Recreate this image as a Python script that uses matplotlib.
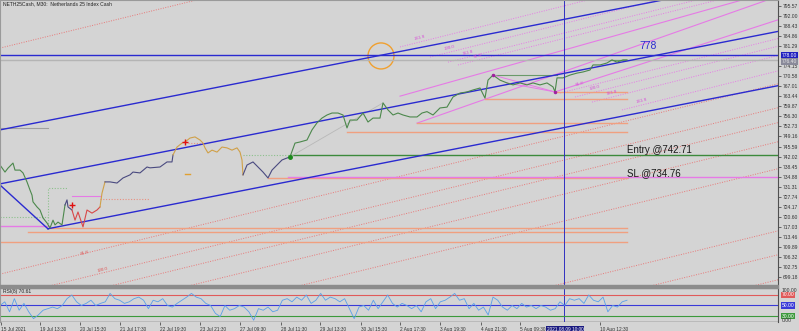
import numpy as np
import matplotlib.pyplot as plt
from matplotlib.patches import Ellipse, Rectangle

plt.rcParams['font.family'] = ['Liberation Sans', 'DejaVu Sans']

# ---- price path (bar index, price) ----
bar_x = [0, 5, 8, 13, 15, 20, 23, 27, 30, 32, 33, 37, 40, 43, 47, 50, 53, 55, 58, 62,
         65, 67, 68, 72, 75, 78, 83, 87, 92, 97, 100, 102, 105, 110, 117, 123, 130, 133,
         140, 147, 150, 160, 167, 172, 173, 177, 182, 185, 190, 195, 200, 203, 205, 208,
         212, 217, 222, 227, 232, 237, 240, 242, 243, 247, 253, 258, 263, 268, 272, 277,
         282, 287, 290, 295, 300, 307, 312, 317, 322, 327, 332, 338, 343, 347, 350, 357,
         363, 368, 373, 380, 383, 388, 393, 398, 403, 410, 417, 422, 427, 433, 440, 447,
         453, 460, 467, 473, 480, 485, 488, 493, 500, 507, 513, 520, 527, 533, 540, 547,
         553, 555, 557, 563, 570, 577, 583, 590, 593, 600, 607, 612, 617, 623, 627]
price = [739.0, 736.5, 737.9, 739.7, 737.2, 737.2, 736.2, 733.0, 730.1, 728.3, 725.9,
         724.1, 723.0, 720.2, 718.4, 716.6, 719.4, 717.7, 718.7, 717.7, 724.8, 726.6,
         724.1, 723.0, 719.4, 722.3, 717.0, 723.0, 721.9, 723.0, 724.1, 729.0, 733.0,
         733.0, 732.6, 734.4, 735.5, 736.5, 736.2, 738.3, 738.0, 738.3, 740.1, 740.1,
         742.6, 745.4, 746.8, 747.2, 748.6, 749.0, 747.9, 746.8, 745.1, 743.3, 744.3,
         743.6, 745.4, 745.1, 744.3, 745.1, 743.6, 740.8, 735.5, 739.0, 740.1, 738.3,
         736.5, 734.4, 737.2, 739.0, 740.8, 741.5, 741.9, 746.8, 747.2, 747.9, 751.5,
         754.0, 755.7, 756.8, 757.5, 757.5, 756.8, 752.2, 755.0, 755.0, 757.5, 754.3,
         755.7, 755.7, 761.1, 758.6, 756.8, 757.5, 756.8, 756.1, 756.1, 757.5, 758.0,
         756.8, 759.3, 759.6, 763.2, 764.6, 765.0, 765.7, 766.4, 762.8, 769.2, 771.0,
         769.2, 768.2, 767.5, 768.2, 767.5, 768.2, 767.5, 768.2, 766.8, 765.0, 770.0,
         770.0, 771.0, 771.7, 772.1, 772.8, 774.6, 774.6, 775.3, 776.4, 775.6, 776.4,
         776.4]
seg_edges = [0, 65, 72, 100, 105, 173, 243, 290, 627]
seg_colors = ['#4c884c', '#4a4a80', '#d84848', '#d0a048', '#4a4a80', '#d0a048',
              '#4a4a80', '#4c884c']

# ---- RSI(8) ----
rsi_vals = [50, 57, 38, 63, 41, 54, 38, 25, 32, 41, 44, 47, 44, 50, 63, 70, 57, 50, 54, 60,
            50, 54, 57, 73, 63, 60, 54, 57, 63, 66, 60, 44, 60, 57, 63, 50, 47, 54, 60, 66,
            73, 66, 63, 54, 50, 35, 29, 50, 41, 44, 50, 47, 38, 22, 44, 41, 47, 38, 41, 60,
            63, 57, 66, 60, 70, 54, 60, 73, 60, 66, 63, 57, 63, 44, 25, 47, 50, 41, 60, 44,
            57, 70, 54, 47, 54, 50,
            44, 50, 38, 57, 63, 44, 57, 60, 66, 73, 60, 63, 44, 54, 41, 47, 32, 66, 60, 47,
            41, 50, 44, 54, 47, 50, 44, 50, 47, 41, 44, 57, 50, 63, 60, 63, 54, 70, 60, 57,
            66, 38, 50, 47, 57, 60]
rsi_levels = [70, 50, 30]
rsi_level_colors = ['#e05a5a', '#3a3ad8', '#3c9a3c']

# ---- axis ticks ----
price_ticks = [795.57, 792.00, 788.43, 784.86, 781.29, 774.15, 770.58, 767.01, 763.44,
               759.87, 756.30, 752.73, 749.16, 745.59, 742.02, 738.45, 734.88, 731.31,
               727.74, 724.17, 720.60, 717.03, 713.46, 709.89, 706.32, 702.75, 699.18]
time_pos = [1, 40, 80, 120, 160, 200, 240, 281, 320, 361, 400, 440, 481, 520, 600]
time_labels = ['15 Jul 2021', '19 Jul 13:30', '20 Jul 15:30', '21 Jul 17:30',
               '22 Jul 19:30', '23 Jul 21:30', '27 Jul 09:30', '28 Jul 11:30',
               '29 Jul 13:30', '30 Jul 15:30', '2 Aug 17:30', '3 Aug 19:30',
               '4 Aug 21:30', '5 Aug 09:30', '10 Aug 12:30']

# ---- drawn objects ----
level_778 = 778.0
bid_level = 776.4
entry = 742.71
stop = 734.76
chan_slope = 0.0697
chan_start = [751.5, 732.3, 713.0]
v_line = ([0, 48], [731.9, 716.3])
fib_slope = 0.087
red_fib_start = [780.6, 700.2, 691.7, 686.4, 679.6, 670.0, 647.9, 639.4, 630.5]
pink_fib = [(400, 781.0, '261.8'), (430, 777.4, '200.0'), (448, 775.6, '161.8'),
            (458, 774.6, '61.8'), (560, 764.6, '61.8'), (575, 763.2, '100.0'),
            (592, 761.4, '161.8'), (622, 758.6, '261.8')]
pink_solid = [((417, 753.9), 0.125), ((555, 765.0), 0.115), ((400, 763.5), 0.100)]
salmon_levels = [(268, 627, 734.4), (347, 627, 750.7), (417, 627, 753.9),
                 (485, 627, 762.5), (555, 627, 765.0), (48, 627, 716.5),
                 (28, 627, 715.2), (0, 627, 711.6)]

W, H = 799, 331
bg = '#d4d4d4'
fs = 3.6
fig = plt.figure(figsize=(W / 100, H / 100), dpi=100)
fig.patch.set_facecolor(bg)
ax = fig.add_axes([0, 1 - 285 / H, 778 / W, 285 / H])
rs = fig.add_axes([0, 1 - 322 / H, 778 / W, 34 / H])
fig.add_artist(Rectangle((0, 1 - 288 / H), 778 / W, 3 / H, transform=fig.transFigure,
                         color='#8c8c8c'))

for a in (ax, rs):
    a.set_facecolor(bg)
    a.set_xlim(0, 778)
    a.spines['right'].set_color('#505050')
    a.spines['top'].set_color('#9a9a9a')
    a.spines['left'].set_color('#9a9a9a')
    a.spines['bottom'].set_visible(False)
ax.set_ylim(696.33, 797.70)
ax.set_xticks([])
ax.yaxis.tick_right()
ax.set_yticks(price_ticks)
ax.set_yticklabels(['%.2f' % t for t in price_ticks])
ax.tick_params(axis='y', labelsize=fs, colors='#505050', labelcolor='#333333',
               length=2.5, width=0.6, pad=1.2)

xs = np.linspace(0, 778, 2)

# red dotted fibo lines
for p0 in red_fib_start:
    ax.plot(xs, p0 + fib_slope * xs, color='#e87878', lw=0.7, ls=(0, (1, 1.5)))
ax.text(85, 707.7, '61.8', color='#e05050', fontsize=3.2, rotation=14, ha='center', va='center')
ax.text(103, 701.7, '100.0', color='#e05050', fontsize=3.2, rotation=14, ha='center', va='center')

# pink fibo lines
for x0, p0, lab in pink_fib:
    px = np.array([x0, 778])
    ax.plot(px, p0 + 0.089 * (px - x0), color='#e67ae6', lw=0.7, ls=(0, (1, 1.5)))
    ax.text(x0 + 20, p0 + 0.089 * 20 + 0.3, lab, color='#d84ad8', fontsize=3.2,
            rotation=14, ha='center', va='bottom')
for (x0, p0), sl in pink_solid:
    px = np.array([x0, 778])
    ax.plot(px, p0 + sl * (px - x0), color='#e67ae6', lw=0.8)

# horizontal levels
ax.axhline(bid_level, color='#b4b4b4', lw=1)
ax.axhline(level_778, color='#2a2ad0', lw=1)
for x0, x1, lv in salmon_levels:
    ax.plot([x0, x1], [lv, lv], color='#f0a080', lw=1)
ax.plot([0, 50], [717.3, 717.3], color='#e67ae6', lw=1)
ax.plot([288, 778], [stop, stop], color='#e67ae6', lw=1)
ax.plot([290, 778], [entry, entry], color='#3c8a3c', lw=1)
ax.plot([243, 290], [entry, entry], color='#8cc08c', lw=0.8, ls=(0, (1, 1.5)))
ax.plot([0, 48], [752.2, 752.2], color='#a0a0a0', lw=0.8)
ax.plot([0, 48], [720.6, 720.6], color='#8cc08c', lw=0.8, ls=(0, (1, 1.5)))
ax.plot([48, 48, 67], [716.3, 730.8, 730.8], color='#8cc08c', lw=0.8, ls=(0, (1, 1.5)))
ax.plot([72, 100], [728.0, 728.0], color='#e67ae6', lw=0.8)
ax.plot([100, 150], [726.9, 726.9], color='#e89080', lw=0.8, ls=(0, (1, 1.5)))
ax.plot([188, 205], [746.8, 746.8], color='#e89080', lw=0.8, ls=(0, (1, 1.5)))
ax.plot([185, 190], [735.8, 735.8], color='#e0a030', lw=1)
ax.plot([493, 557], [771.0, 771.0], color='#6a9a6a', lw=0.8)
ax.plot([610, 627], [776.4, 776.4], color='#6a9a6a', lw=0.8)
ax.plot([493, 555], [771.0, 765.0], color='#e67ae6', lw=0.7)
ax.plot([507, 555], [768.2, 765.0], color='#e67ae6', lw=0.7)
ax.plot([290, 383], [741.9, 761.1], color='#b8b8b8', lw=0.6)

# channel (blue)
for i, p0 in enumerate(chan_start):
    x0 = 48 if i == 2 else 0
    px = np.array([x0, 778])
    ax.plot(px, p0 + chan_slope * px, color='#2a2ad0', lw=1)
ax.plot(v_line[0], v_line[1], color='#2a2ad0', lw=1)

# price path
bx = np.array(bar_x)
pr = np.array(price)
for i, c in enumerate(seg_colors):
    m = (bx >= seg_edges[i]) & (bx <= seg_edges[i + 1])
    ax.plot(bx[m], pr[m], color=c, lw=0.8)
ax.plot([185, 72], [747.2, 724.8], ls='none', marker='+', color='#e01010', ms=4, mew=1)
ax.plot([290], [741.9], marker='o', color='#1c8a1c', ms=2.5)
ax.plot([493, 555], [771.0, 765.0], ls='none', marker='o', color='#a020a0', ms=1.5)

# crosshair vertical
ax.axvline(564, color='#3030c0', lw=0.7)
rs.axvline(564, color='#3030c0', lw=0.7)

ax.add_patch(Ellipse((381, 777.8), 26, 26 * 0.3557, fill=False, ec='#f0a030', lw=1))

ax.text(648, 781.3, '778', color='#2a2ad0', fontsize=7.5, ha='center', va='center')
ax.text(627, 744.5, 'Entry @742.71', color='#1a1a1a', fontsize=7, ha='left', va='center')
ax.text(627, 736.3, 'SL @734.76', color='#1a1a1a', fontsize=7, ha='left', va='center')
ax.text(3, 796.3, 'NETH25Cash, M30:  Netherlands 25 Index Cash', color='#222222',
        fontsize=3.6, ha='left', va='center')

ax.annotate('778.00', xy=(1.0, level_778), xycoords=('axes fraction', 'data'),
            xytext=(2.5, 0), textcoords='offset points', fontsize=fs, color='white',
            va='center', ha='left',
            bbox=dict(boxstyle='square,pad=0.15', fc='#2020c0', ec='none'))
ax.annotate('776.40', xy=(1.0, bid_level - 0.6), xycoords=('axes fraction', 'data'),
            xytext=(2.5, 0), textcoords='offset points', fontsize=fs, color='#e8e8e8',
            va='center', ha='left',
            bbox=dict(boxstyle='square,pad=0.15', fc='#8a8a9a', ec='none'))

# RSI panel
rs.set_ylim(18.6, 83.3)
rs.set_yticks([])
for lv, c in zip(rsi_levels, rsi_level_colors):
    rs.axhline(lv, color=c, lw=0.8)
    rs.annotate('%.2f' % lv, xy=(1.0, lv), xycoords=('axes fraction', 'data'),
                xytext=(2.5, 0), textcoords='offset points', fontsize=fs, color='white',
                va='center', ha='left',
                bbox=dict(boxstyle='square,pad=0.15', fc=c, ec='none'))
rs.annotate('100.00', xy=(1.0, 1.0), xycoords='axes fraction', xytext=(2.5, -2),
            textcoords='offset points', fontsize=fs, color='#333333', va='center')
rs.annotate('0.00', xy=(1.0, 0.0), xycoords='axes fraction', xytext=(2.5, 1),
            textcoords='offset points', fontsize=fs, color='#333333', va='center')
rx = np.linspace(0, 627, len(rsi_vals))
rs.plot(rx, rsi_vals, color='#5aa0e8', lw=0.6)
rs.text(3, 81, 'RSI(8) 70.61', fontsize=3.6, color='#222222', ha='left', va='top')
rs.axhline(18.6, color='#505050', lw=1)
rs.set_xticks(time_pos)
rs.set_xticklabels(time_labels)
for lab in rs.get_xticklabels():
    lab.set_horizontalalignment('left')
rs.tick_params(axis='x', labelsize=3.4, labelcolor='#333333', colors='#505050',
               length=2, width=0.6, pad=1.5)
rs.annotate('2021.08.09 10:00', xy=(565, 0), xycoords=('data', 'axes fraction'),
            xytext=(0, -5.5), textcoords='offset points', fontsize=3.4, color='white',
            ha='center', va='center',
            bbox=dict(boxstyle='square,pad=0.15', fc='#1a1a80', ec='none'))

fig.savefig('out.png', dpi=100, facecolor=bg)
